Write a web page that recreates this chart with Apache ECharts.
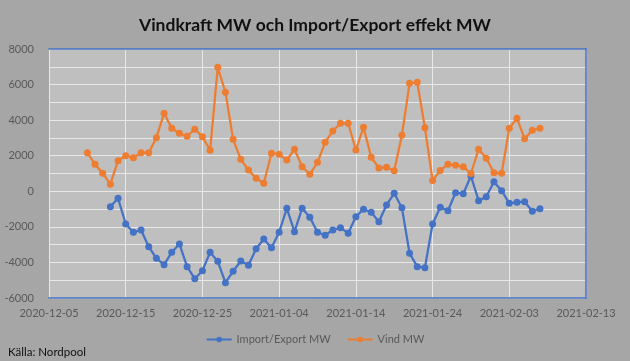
<!DOCTYPE html>
<html>
<head>
<meta charset="utf-8">
<script src="https://cdn.jsdelivr.net/npm/echarts@6/dist/echarts.min.js"></script>
<style>
html,body{margin:0;padding:0;background:#a6a6a6;}
#c{width:630px;height:361px;}
</style>
</head>
<body>
<div id="c"></div>
<script>
const xStart = '2020-12-05';
const xEnd = '2021-02-13';
const windStart = '2020-12-10';
const windMW = [2170,1517,1010,400,1720,2002,1890,2170,2170,3013,4385,3542,3261,3092,3486,3070,2305,6971,5566,2923,1799,1197,
  731,450,2136,2080,1760,2361,1383,955,1630,2755,3390,3823,3823,2322,3598,1911,1310,1350,1158,3148,6072,6128,3576,600,1170,1517,1460,1383,1000,2361,1855,
  1045,1010,3542,4104,2958,3429,3542];
const impStart = '2020-12-13';
const importExportMW = [-866,-394,-1839,-2305,-2176,-3114,-3767,-4127,-3430,-2963,-4239,-4914,-4464,-3430,-3940,-5138,-4498,-3919,-4160,
  -3227,-2682,-3171,-2305,-956,-2271,-956,-1462,-2305,-2474,-2176,-2047,-2362,-1428,-1012,-1181,-1709,-770,-112,-922,-3486,-4239,-4295,-1839,-900,-1091,-79,-135,860,-529,-304,
  540,34,-675,-619,-585,-1125,-979];
const yMin = -6000, yMax = 8000;

const DAY = 86400000;
const t0 = Date.parse(xStart + 'T00:00:00Z');
const dayOf = s => (Date.parse(s + 'T00:00:00Z') - t0) / DAY;
const xMax = dayOf(xEnd);
function toPairs(start, arr){
  const s = dayOf(start);
  return arr.map((v,i)=>[s+i, v]);
}
function fmtDay(d){
  const dt = new Date(t0 + d*DAY);
  const p = n => String(n).padStart(2,'0');
  return dt.getUTCFullYear()+'-'+p(dt.getUTCMonth()+1)+'-'+p(dt.getUTCDate());
}
const FONT = 'Lato';
const chart = echarts.init(document.getElementById('c'));
chart.setOption({
  backgroundColor: '#a6a6a6',
  animation: false,
  textStyle: {fontFamily: FONT},
  title: {
    text: 'Vindkraft MW och Import/Export effekt MW',
    left: 'center', top: 11,
    textStyle: {fontFamily: FONT, fontSize: 17.5, fontWeight: 'bold', color: '#111'}
  },
  legend: {
    bottom: 11, left: 'center',
    itemWidth: 25, itemHeight: 7, itemGap: 16,
    textStyle: {fontFamily: FONT, fontSize: 11, color: '#595959'},
    data: ['Import/Export MW', 'Vind MW']
  },
  graphic: [{
    type: 'text', left: 8, bottom: 3,
    style: {text: 'Källa: Nordpool', fontFamily: FONT, fontSize: 11.5, fill: '#111'}
  }],
  grid: {left: 49, right: 44, top: 49, bottom: 63, show: true, backgroundColor: '#bfbfbf', borderWidth: 0},
  xAxis: [{
    type: 'value', min: 0, max: xMax, interval: 10,
    axisLine: {show: true, onZero: false, lineStyle: {color: '#4472c4', width: 1.5}},
    axisTick: {show: false},
    splitLine: {show: true, lineStyle: {color: '#e8e8e8', width: 1}},
    axisLabel: {formatter: v => fmtDay(v), color: '#595959', fontSize: 11, margin: 10, fontFamily: FONT}
  },{
    type: 'value', position: 'top', min: 0, max: xMax,
    axisLine: {show: true, onZero: false, lineStyle: {color: '#4472c4', width: 1.5}},
    axisTick: {show: false}, axisLabel: {show: false}, splitLine: {show: false}
  }],
  yAxis: [{
    type: 'value', min: yMin, max: yMax, interval: 1000,
    axisLine: {show: false}, axisTick: {show: false},
    splitLine: {show: true, lineStyle: {color: '#e8e8e8', width: 1}},
    axisLabel: {formatter: v => (v % 2000 === 0 ? String(v) : ''), color: '#595959', fontSize: 11, margin: 15, fontFamily: FONT}
  },{
    type: 'value', position: 'right', min: yMin, max: yMax,
    axisLine: {show: true, onZero: false, lineStyle: {color: '#4472c4', width: 1.5}},
    axisTick: {show: false}, axisLabel: {show: false}, splitLine: {show: false}
  }],
  series: [{
    name: 'Import/Export MW', type: 'line',
    data: toPairs(impStart, importExportMW),
    symbol: 'circle', symbolSize: 7,
    itemStyle: {color: '#4472c4'},
    lineStyle: {color: '#4472c4', width: 2.25}
  },{
    name: 'Vind MW', type: 'line',
    data: toPairs(windStart, windMW),
    symbol: 'circle', symbolSize: 7,
    itemStyle: {color: '#ed7d31'},
    lineStyle: {color: '#ed7d31', width: 2.25}
  }]
});
</script>
</body>
</html>
